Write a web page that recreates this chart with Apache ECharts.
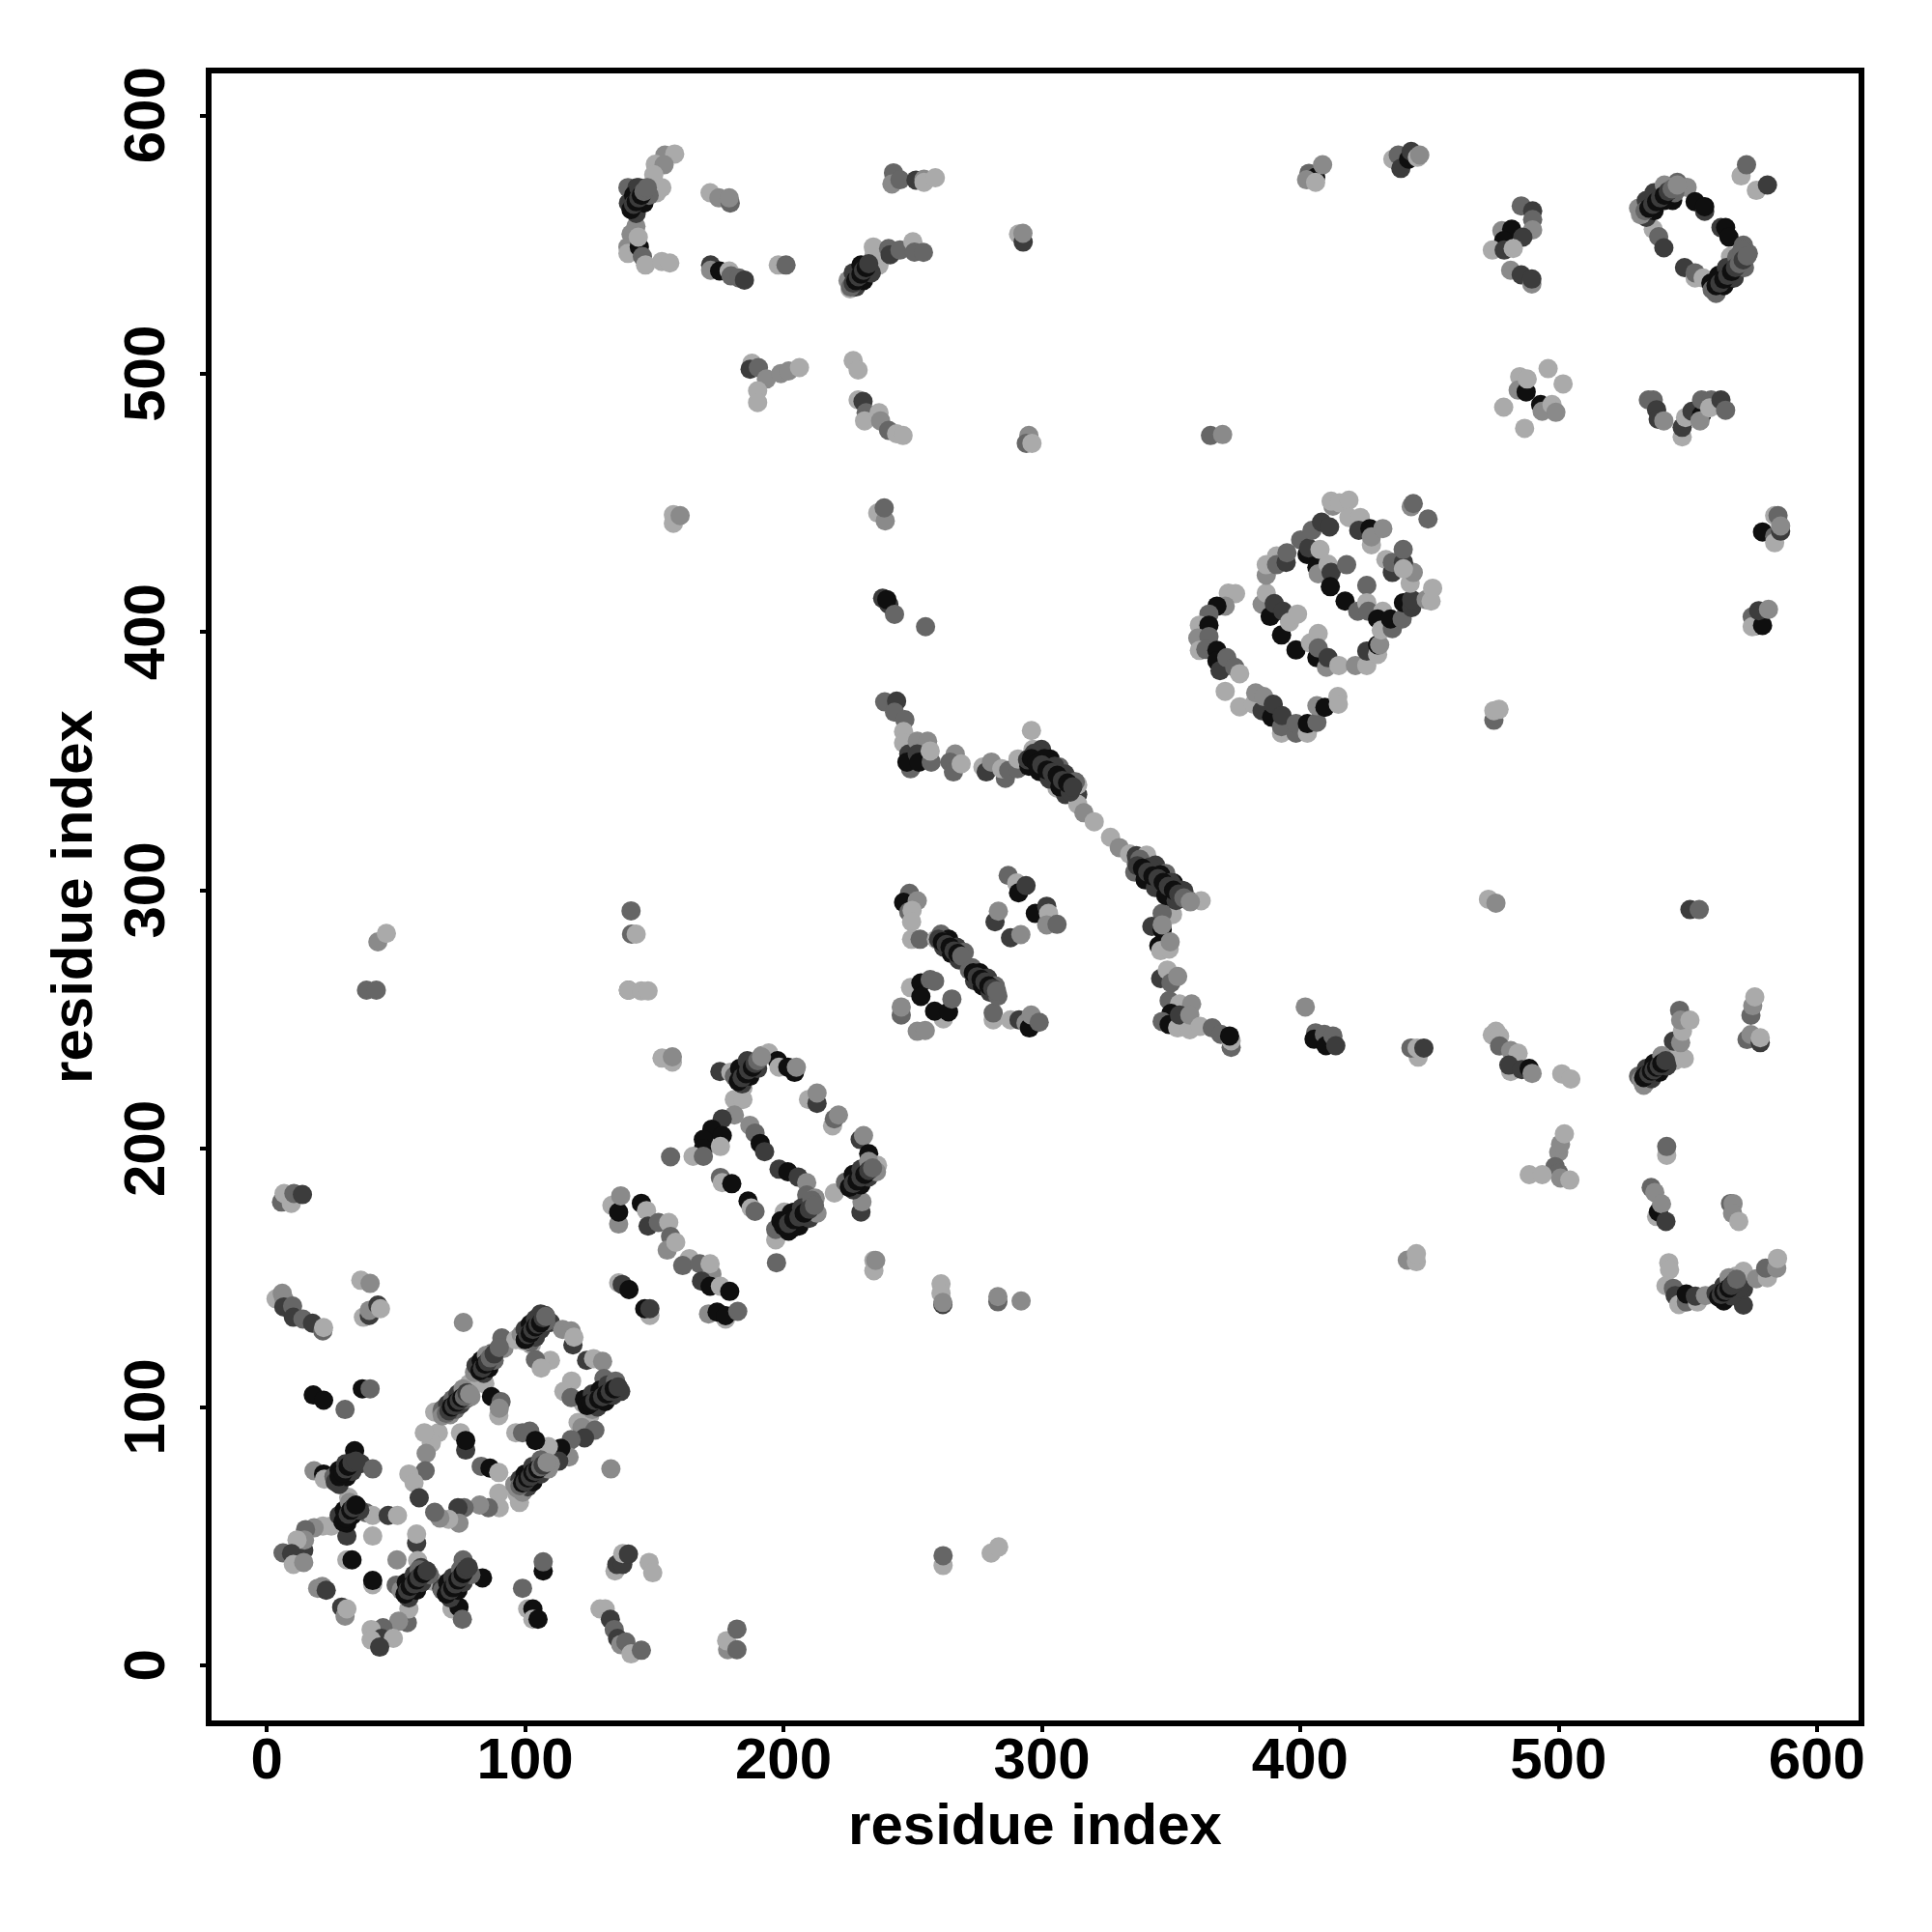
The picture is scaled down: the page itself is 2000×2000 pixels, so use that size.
<!DOCTYPE html>
<html><head><meta charset="utf-8">
<style>html,body{margin:0;padding:0;background:#fff}#c{width:2000px;height:2000px}</style>
<script src="https://cdn.jsdelivr.net/npm/echarts@6/dist/echarts.min.js"></script>
</head><body><div id="c"></div>
<script>
// every contact is [residue x, residue y, shade level 0 (darkest) .. 4 (lightest)]
const tickValues=[0,100,200,300,400,500,600];
const axisTitle="residue index";
const lowerLeftA=[[3.6,141.8,4],[6,144,3],[6.6,141.8,3],[6.6,138.7,1],[10,139,2],[10.3,134.7,1],[14,134,2],[17.7,132.4,1],[21.7,129.4,2],[22,130.7,4],[36.4,149,4],[40,147.8,3],[37.4,134.7,4],[39.7,135.4,1],[39.7,137.4,3],[43,139.4,1],[44,138,4],[18,104.6,0],[22,102.6,0],[30.3,99,2],[37,107,0],[40,107,2],[5.7,179.3,2],[6.7,182.6,4],[9.5,178.8,4],[10.5,182.6,2],[13.8,182.2,1],[38.6,261.3,2],[42.4,261.3,2],[43,280,3],[46.3,283.3,4]];
const ringOne=[[66.4,90,4],[63.7,86,4],[61,90,4],[61.7,82,3],[61.3,75.3,2],[55,74,4],[57,70.6,4],[59,64.8,1],[65,98,4],[67.7,98,3],[69.7,98,2],[71.7,99.3,1],[73,101,0],[74.4,103,0],[76.4,104.6,1],[78.4,106.6,3],[78.4,109,4],[81,109,4],[84.4,109,4],[80.4,113.3,3],[83.7,115.3,0],[84.4,118,1],[87,120.7,2],[87.8,118,1],[91.8,122.7,3],[91,126.7,2],[96.4,126,4],[102.4,124,4],[101,126.7,0],[103,128,0],[105,130.7,0],[106.4,133.4,1],[107.8,135.4,1],[109.8,132.7,1],[114.5,130,3],[118.5,124,1],[117.8,129.4,3],[118.9,127,4],[123.8,118,1],[126.5,118.7,4],[130,117.6,3],[130.5,111,2],[125,96.6,4],[122.5,101.3,4],[125.8,100.6,0],[127.8,102.6,0],[130.5,104.6,1],[132.5,106,2],[135.8,107.7,1],[109.8,118,4],[104,118.3,2],[106.2,115,4],[118,110,4],[115,106,4],[117.8,103.6,2],[120.5,94,4],[122,92,3],[127,91,2],[123,88,1],[117.8,87.3,2],[117,80.6,3],[113.8,84,0],[113,79,1],[109,84.6,4],[109.8,78,3],[106.4,76.6,1],[103.8,74,0],[101,72,0],[98.4,70,0],[97,66,4],[97.8,63,4],[89.8,66.6,4],[90,61,4],[85.8,61,2],[82.4,62,3],[76.4,61,2],[74,61,1],[74.4,55,3],[70.4,56.5,4],[67,57,3],[65,59.2,2],[87,104,0],[90.7,102,2],[89.8,96.6,4],[90,99.5,3],[96.4,90,4],[99,90,2],[101.8,90.6,2],[104,87,0],[75,90,4],[77,83.3,1],[77,87,0],[83,77,2],[86.4,76.3,0],[89.8,74.6,4],[76.1,132.7,3],[133.2,76,3]];
const crossLower=[[34,83,0],[36.4,78,1],[41,76,2],[31,75.3,1],[29,72.6,0],[27,71.2,2],[18.3,75.3,3],[22,74,0],[22.3,72,4],[31.7,65,4],[35,61.2,0],[30.3,58.5,0],[29,56,0],[38.4,59,2],[41,58,4],[47,58,1],[50.6,58,4],[31,50,1],[25,53.9,4],[21.7,53.9,4],[18.3,53.2,3],[15,52.5,2],[14.3,44.5,1],[14.6,48.5,3],[11.7,48.5,4],[6.3,43.5,2],[9.6,43.2,1],[10.3,39,4],[14.3,39.8,3],[41,50,4],[58,47.2,1],[58,50.8,4],[31,40.8,4],[33,40.8,0],[50.4,40.8,3],[58.4,40.5,4],[41,31.2,4],[41,32.8,0],[19.7,29.8,3],[21.5,30.5,3],[23,29,1],[29,22.5,1],[30.3,19,3],[31,21.8,4],[50.1,31,2],[59.7,37.8,1],[61,35,0],[58.4,32.5,0],[55.7,29.8,0],[54.4,26.5,1],[54.4,16.5,2],[55,21.8,4],[51,17,3],[45,14.5,2],[40.4,13.8,4],[44.4,10.4,1],[40.4,9.8,4],[49,10.4,4],[43.7,7,1],[64.4,32.5,4],[67.7,29.8,1],[71,27,0],[73,29.8,0],[75.7,33.8,1],[76,40.8,2],[77.7,36.5,1],[83.5,33.8,0],[71.7,21.8,4],[74.4,22.5,0],[75.7,17.8,2],[107,36.5,0],[107,40,2],[99,29.8,2],[101,21.8,4],[103,21.8,0],[103,17.8,4],[105,17.8,0],[134.8,36.5,4],[135.5,39,1],[137.8,39,1],[137.8,43.2,4],[140,43,1],[148,39.8,4],[149.4,35.8,4],[129,21.8,4],[131,21.8,4],[133,17.8,1],[134.5,13.8,2],[135.8,10.4,1],[137,8,3],[139,9,2],[141,4.4,4],[145,5.8,2],[178.4,6,3],[178,9.5,4],[182,14,2],[182,6,2],[261.8,38.6,4],[261.8,42.4,2],[280.4,43.4,4],[283.3,45.8,4]];
const ringTwo=[[141.2,283,2],[143,283,4],[141,292,2],[140,261.3,2],[140,261.3,4],[145,261,4],[147.6,261,4],[153,235,4],[157,233.5,4],[157,235.5,3],[175.4,229.8,1],[179.6,229.5,4],[185,227.5,0],[187,230,0],[189.7,233,1],[191.6,236,3],[194.3,237,4],[197.7,234,0],[198.3,231.5,4],[204.3,229.5,0],[201.7,231.5,0],[205,231.5,3],[184.3,223.5,4],[181,219,4],[184.3,219,4],[181,213,3],[176.3,211.5,1],[172.3,207.5,0],[169,203.5,0],[169,200,0],[165,197,4],[169,197,2],[176.3,205,0],[175.6,200.8,4],[156.3,196.8,2],[187,209,3],[189,206,2],[191,202,0],[192.7,198.8,1],[198.3,192,1],[201.7,191,0],[205.7,189,1],[209,186.8,3],[209.7,219,4],[213,217.5,1],[213,221.5,3],[219,208.8,4],[219.7,211.5,2],[221.3,213,3],[229.7,203.5,1],[231,205,3],[233,198,0],[234.4,191.5,2],[236.4,193.5,4],[229.7,188,0],[227,186,0],[224.4,185.5,4],[219.7,182.8,4],[230,175.4,1],[230.4,179.4,3],[210.3,176.8,1],[209,182,2],[212.3,180.8,3],[206.3,175.4,0],[204.3,175.4,0],[201.7,172.8,0],[200.3,175.4,4],[203.7,169.4,0],[200.3,169.4,0],[197,164.7,4],[197,168.7,2],[197.3,155.8,2],[175.6,188.8,2],[176.3,186.8,4],[180,186.4,0],[186.3,179.7,0],[187.5,177,4],[189,175.7,2],[235,152.7,4],[235,156.7,4],[235.7,156.7,3],[261,147.6,4],[261,144,4],[261.7,139.6,1],[261.7,140.4,3],[283,140.7,2],[283,142.7,3],[292,141,3]];
const bandTwo=[[136.2,170.8,3],[133.6,178,4],[136.2,175.4,0],[137,181.7,3],[145,178.8,0],[147,176,4],[147.6,170,1],[151.6,171.4,2],[155.6,171.4,4],[156.3,166,2],[155,160.7,3],[158.3,163.7,4],[163.6,157.4,4],[161,154.7,2],[167.6,155.4,2],[172.3,151.4,3],[171.6,155.4,4],[168.3,148.7,1],[171.6,146.7,0],[175.6,146.7,4],[179.2,144.7,0],[136.2,148,4],[137.6,147.4,1],[140.2,145.4,0],[148.3,135.4,4],[146.3,138,0],[148.3,138,1],[171,136,3],[177.6,134,4],[174.3,136.7,0],[177.6,135.3,0],[182.3,137,2]];
const crossMiddle=[[248.8,298.8,2],[246.5,295.3,0],[251.8,295.9,3],[248.5,291.6,2],[249.8,292.2,4],[249.6,287.8,4],[249.6,281,4],[252.9,281,2],[259.2,281,4],[262.5,281.6,1],[263.9,279.7,0],[265.9,277.9,1],[268.5,274.7,2],[274.5,268.5,3],[275.9,267.3,1],[277.9,264.8,0],[281.2,262.3,2],[281.2,249.8,4],[281.2,252.5,2],[287.9,249.8,4],[291.2,249.8,1],[293.9,248.6,3],[295.2,246.7,0],[295.9,251.7,3],[299,248.9,2],[249.2,262.3,4],[253.2,264.1,0],[253.2,258.9,0],[256.8,265.4,2],[258.5,264.8,2],[261.9,250.2,4],[258.5,253.2,0],[263.9,252.9,0],[265.2,257.9,2],[245.6,251.7,2],[245.6,254.8,3],[251.8,245.4,3],[254.9,245.7,3],[287,305.7,2],[290.3,302.8,4],[291,299,0],[293.9,301.8,1],[297.5,291,0],[301.9,293.8,1],[302.6,291,4],[301.9,286.6,3],[305.9,286.8,2],[281.9,287.8,1],[283.2,291.9,3],[287.9,281.6,1],[291.9,282.8,3]];
const longBand=[[239.2,372.9,2],[243.8,373.2,1],[243,368.9,2],[247,366,2],[246.5,361.4,4],[246.5,357,4],[248.5,352.7,1],[249.2,347,2],[247.8,349.6,0],[251.8,357.7,3],[255.8,357.7,3],[251.8,352.7,1],[252.5,349.6,0],[257.2,349.6,2],[256.8,353.9,4],[266.5,352.7,3],[264.5,349.6,2],[265.8,345.8,2],[268.8,348.9,4],[277.2,347.7,4],[278.5,345.8,1],[280.5,349.6,3],[285.9,343.3,2],[284.5,347,4],[287.2,346.4,2],[290.6,347,2],[290.8,350.8,4],[296,361.8,4],[296.6,354.5,4],[295,350.8,0],[299.9,354.5,1],[303.2,350.8,0],[298.6,347.7,3],[302.6,343.9,0],[306.8,347.7,2],[309.9,343.3,1],[305.9,339.6,4],[309.2,337,1],[313.9,337,1],[313.9,333.3,4],[313.9,340.8,4],[316.3,330,3],[320.3,326.5,4],[326.6,320.5,4],[330,316.5,3],[334,314,4],[336.6,310.3,2],[336.6,313.4,1],[340.6,313.6,4],[339.3,305.9,4],[340,309,0],[344,309.7,1],[343.3,303.4,0],[348,306.5,2],[347.3,300.3,2],[351,302.8,0],[352,297.8,4],[350.6,295.3,0],[355,299.7,1],[357.3,295.9,2],[361.7,295.9,4],[350.6,290.6,4],[346.6,291,2],[342.6,286,1],[346.6,284.7,0],[346.6,286.6,3],[345.3,278.5,0],[346,276.6,4],[349.3,277.2,4],[349.7,280,3],[346,265.8,1],[348.6,269.1,4],[350,264.1,2],[352.6,266.6,3],[349.3,257.3,2],[353.3,256,4],[358,256,3],[350,252.3,0],[346.6,249.2,2],[349.3,248,0],[352.6,246.7,4],[353.3,251.7,1],[357.3,246,4],[357.3,251.7,3],[361.3,247.3,4],[366,246.7,2],[369.3,244.2,2],[373.3,239.2,2],[373.3,241.7,4],[372.7,243.6,0],[402,254.8,3],[406,244.8,2],[405.4,242.3,0],[409.4,244.2,2],[410,239.8,0],[412.7,243.6,2],[413.8,239.8,1]];
const ringThree=[[372.2,415,4],[375,414.8,4],[371,410,3],[367.8,410,0],[364.7,406.9,2],[361,402.6,4],[364.7,402.6,0],[360.4,397.6,3],[364.7,398.2,2],[361,392.8,4],[363.5,393.2,2],[367.8,392.8,0],[367.8,388.8,0],[369,385,1],[371.6,390,2],[374.7,386.3,2],[376.6,383.8,4],[371,377,4],[376.6,371,4],[382,372,4],[382.8,376.4,3],[385.3,369.5,1],[385.9,375,3],[389,367,0],[389.6,372,1],[392.8,360.8,4],[392.8,363.3,2],[393,367.6,1],[398.4,360.8,2],[398.4,364.5,2],[402.8,360.8,4],[402.8,364.5,0],[406.5,365,2],[406.5,371.4,3],[409.6,370.8,0],[414.6,375,4],[414.8,372,4],[385.3,410.7,3],[386.9,415,4],[388.4,406,0],[390,411,1],[393.4,408,1],[392.8,398.8,0],[395.9,403.8,4],[399,406.9,4],[398.4,393,0],[404,395.7,4],[407,399.4,4],[406.5,390,0],[407,393.8,2],[410.2,386.3,3],[410.8,390,1],[415,387,4],[421.4,387,3],[425.8,387,4],[425.8,392.6,1],[430,391.3,4],[430,395,0],[430.8,395,3],[386.9,421.9,3],[386.9,426,4],[390.9,429.4,4],[390.9,426,2],[394.6,426.9,1],[394.9,430.6,2],[400.2,435.6,2],[402.7,430,0],[403.3,432.5,1],[404.6,439.3,2],[408.3,442.5,1],[411.4,440.6,1],[412.7,448.7,3],[412,450.6,4],[415.2,450,4],[418.9,451,4],[418.9,444.3,4],[423.3,444.3,4],[422.7,439.3,1],[427,440,0],[427.6,433.7,4],[427.6,436.8,3],[432,440,3],[406.5,425,0],[407,422.5,3],[407.7,431.9,4],[410.8,426.2,4],[412,423,1],[418,426,2],[411.7,417.5,0],[417.4,411.9,0],[422.3,408,2],[425.8,418,2],[425.8,411.3,4],[426.4,408,2],[432,408,4],[430,405,0],[431.4,400.7,4],[435.7,401.3,2],[435,405,0],[439.5,405,2],[440,411.3,0],[443.2,409.4,1],[443.2,412.5,1],[448.8,412.5,3],[450.7,411.9,4],[451.3,416.9,4],[442.6,418.8,4],[443.8,423,3],[433.2,428,4],[435.7,423,1],[435.7,426.9,2],[440,426.9,1],[439.9,431.9,2],[440,424.4,4],[443,448.5,3],[443.8,449.7,2],[449.5,443.7,2],[475,365.8,2],[475,369.5,4],[477,370,4],[157.4,445.4,4],[157.4,442,4],[160,445,3],[236.5,446,4],[239.4,443,3],[239,448,2],[238.4,413,1],[240.8,410.6,1],[240,412.5,0],[243,406.8,2],[255,402,2]];
const upperLeft=[[154.1,584.6,3],[157.9,585,4],[150.4,581,4],[153.8,580.8,3],[149.8,577,4],[139.8,572,2],[143.3,572,1],[146,571.5,3],[146,569,1],[143.5,567.7,0],[142.9,564.6,1],[151,570,4],[152.9,572,4],[142.9,557,3],[141,554,3],[139.8,549,3],[139.8,546.5,4],[144.2,549,0],[143.8,552.8,4],[145.4,545.3,2],[146.6,542,4],[152.9,543.4,4],[156,542.8,4],[171.6,570,4],[175,568,3],[179.4,566,2],[179,568,3],[171.8,542,1],[171.8,540,3],[175.3,539.7,0],[179,539.7,4],[179.7,537.8,2],[182.8,537,2],[184.9,536.2,1],[198,542,4],[201,542,2],[225.8,532.8,4],[226.4,534.7,1],[228.3,537,0],[230.8,539.7,1],[233.2,542,2],[237,542,4],[235.1,546,4],[234.8,549,4],[240.7,548.4,2],[241.3,546,1],[245.1,547.8,2],[250.1,551,4],[250.7,547,2],[254.2,546.9,2],[242.6,577.7,2],[242,573.4,3],[245.1,575,2],[251.3,574.9,1],[254.4,575.2,3],[254.4,574,4],[258.8,575.8,4],[291,554,4],[292.8,550.9,1],[292.7,554.3,3],[187.8,504,4],[187.1,501.7,1],[190.3,502.3,2],[193.4,497.9,3],[190,493.3,4],[190,488.8,4],[199,500,3],[202,501,3],[206.2,502.3,4],[227,505,4],[228.9,501.4,4],[228.9,489.8,4],[230.8,489.2,1],[232,484.8,2],[231.4,481.7,4],[237,484.8,4],[237.6,481.7,3],[240.7,478,2],[243.8,476.7,4],[246.3,476,4],[295,476,3],[294,473,2],[296.2,473,4],[365.3,476,2],[370,476.4,3]];
const upperRight=[[403.4,577.5,2],[406,576,0],[402.5,575,3],[408.7,580.8,3],[406,574,4],[435.9,583,4],[438,584.6,2],[439,579.4,1],[442,583,0],[443,586,1],[445.4,583.7,4],[446.3,584.6,3],[485.6,564.9,2],[490,563,1],[490,559.6,2],[490,555.6,3],[478.1,555.3,3],[481.9,555.9,0],[486.2,552.8,1],[478.8,551.5,0],[474.4,547.8,4],[479,547.8,1],[482.5,548.4,4],[481.5,540,3],[485.6,538.2,1],[489.7,534.7,3],[489.7,536.6,1],[496,501.9,4],[501.8,496,4],[485,498.8,4],[484.4,493.6,3],[487.5,492.9,0],[487.9,497.9,4],[478.8,487,4],[486.9,478.8,4],[493.1,488,0],[493.7,485.4,3],[497.5,488,4],[499,485,3],[534.8,489.8,2],[536.7,489.8,2],[538,486,1],[538.6,482.3,1],[540.8,481.7,3],[547.9,475.5,4],[547.9,479.2,1],[549.2,483,4],[551.7,485.4,1],[555.4,484,0],[554.8,481.7,3],[555.4,489.8,2],[559.1,489.8,2],[558.5,486.7,4],[562.9,489.8,1],[564.7,485.8,2],[531.7,561.5,4],[533.6,562.8,1],[535.5,564.6,0],[538,567,1],[540.4,569.6,2],[544.2,567,0],[543.6,571.5,2],[546,574,2],[549.8,572.1,3],[552.9,566.5,0],[556.6,562.8,1],[556.6,564.6,0],[536.7,555.9,4],[538.8,553,2],[540.8,548.7,1],[548.8,541,1],[552.9,537,4],[552.9,539,2],[556,537,4],[570.7,576.5,4],[572.8,580.8,2],[576.6,570.9,4],[580.9,573,1],[562.9,556.5,1],[564.7,556.5,0],[566,552.8,0],[571.6,549.7,2],[566.6,545.3,4],[573.5,546.5,2],[569.7,543.4,1],[569.1,540.3,2],[561.6,532.2,4],[562.3,533.5,1],[566,538.4,1],[562.9,536,0],[565.4,536,0],[567.9,537.2,1],[583.7,445,4],[585,445,2],[579,438.7,0],[583.7,437,2],[583.7,434.5,4],[586,439,1],[586,441,3],[575,405.8,2],[576.5,402.5,0],[575,402,4],[579,402.5,0],[577.5,408.2,1],[581.3,408.7,3]];
const lowerRight=[[472.9,296.5,4],[475.8,295,3],[550.9,292.5,1],[554.5,292.5,2],[445.7,235.4,4],[442.9,238.9,2],[445.3,238.9,4],[447.9,238.9,1],[475.8,245.4,4],[474.4,244,4],[477.2,243.5,4],[477.2,239.7,2],[481.5,237.9,3],[484.4,236.9,4],[481.5,229.8,4],[480.8,232.3,1],[485.8,230.6,1],[488.7,231,0],[489.8,229.1,3],[501.3,228.9,4],[504.8,226.9,4],[533.7,225.4,4],[535.2,227.9,0],[537.3,230.4,0],[540.2,232.9,0],[542.3,235.4,4],[545.2,234.1,4],[548.7,234.8,4],[544.5,241.6,1],[547.3,241,3],[548,245.4,4],[546.9,253.5,2],[547.3,249.7,3],[550.9,249.7,4],[574.5,251.6,2],[575.2,255.3,3],[576,258.7,4],[573,242.2,2],[574.5,244.1,3],[578.1,241,1],[578.1,242.9,4],[500.1,198.6,3],[500.8,201.7,3],[502.3,205.7,4],[498.7,193,2],[500.1,190.5,2],[500.8,188.6,3],[504.4,187.8,4],[488.7,189.9,4],[493.7,189.9,4],[541.9,197.4,4],[541.9,200.8,2],[535.9,184.9,2],[537.3,183,3],[538,173.7,4],[538.7,175.5,0],[539.9,178.6,3],[541.6,171.8,1],[566.6,178.7,2],[567.6,178.7,3],[567.4,174.9,3],[569.8,171.8,4],[542.7,155.8,4],[543,153.1,4],[541.6,146.9,4],[544.5,145.9,2],[545.2,143.1,1],[546.6,139.6,4],[549.5,140.6,2],[549.5,143.7,0],[553.8,140.6,4],[553,142.9,1],[556.9,143.1,3],[571.6,152.5,4],[568.8,150.6,4],[563.8,142.1,0],[566.6,144.4,0],[568.8,146.9,1],[571.6,139.4,1],[571.6,145.6,1],[576.6,149.6,3],[580.9,150,4],[580.2,153.7,2],[584.5,153.7,3],[584.8,157.5,4],[441.5,156.8,3],[445,156.2,4],[445,159.3,4]];
const ribbonEdges=[[71,97,3],[73,99,2],[75,101,1],[77,103,2],[79,104,3],[68,99,2],[70,101,1],[72,103,2],[74,105,1],[76,107,3],[102,125,2],[104,127,1],[106,130,1],[108,133,2],[98.5,128,3],[100,130,1],[102,132,0],[104,134,1],[106,136,1],[126,99,3],[128,100,1],[131,102,0],[134,104.5,1],[137,106,1],[123,103,0],[126,105,1],[129,106.5,0],[132,108.5,1],[135,110,2],[99,67,3],[101,69,1],[103,71,0],[106,74,1],[109,76,3],[96,70,3],[98,72,1],[100,74,0],[103,77,1],[106,79.5,2],[84,113,1],[86,115,0],[88,118,2],[81,116,1],[83,118,0],[85,120,3],[28,70,1],[31,73,0],[33,75,1],[26,73,2],[28,75.5,0],[30.5,78,1],[31,55,0],[33,58,0],[36,60,1],[28,58,1],[30,60,0],[32,63,3],[55,26,1],[58,29,0],[60,32,1],[63,35,2],[52,29,3],[54,32,0],[57,35,1],[59,37,2],[71,26,1],[74,29,0],[76,32,1],[79,35,2],[68,29,2],[70,32,0],[72,34,1],[75,37,2],[184,225,1],[187,228,0],[190,231,1],[181,228,2],[183,231,0],[186,234,1],[202,168,0],[206,170,0],[210,173,1],[213,175,3],[199,172,0],[203,175,0],[207,177,1],[211,180,2],[227,184,1],[230,186,0],[233,189,1],[236,191,3],[224,187,2],[227,190,0],[230,192,1],[233,195,3],[261,283,2],[264,281,0],[267,278,1],[270,276,2],[262,278,1],[265,275.5,0],[268,273,1],[273,270,2],[276,268,0],[279,266,1],[282,263,2],[274,265,1],[277,263,0],[280,260.5,1],[283,259,2],[297,353,1],[301,351,0],[305,348,1],[309,345,1],[313,342,2],[295,348,0],[299,346,0],[303,343,1],[307,340,0],[311,338,1],[338,312,2],[342,309,1],[346,306,0],[350,303,1],[354,300,1],[336,307,2],[340,304,0],[344,301,1],[348,298,0],[352,296,1],[228,533.5,1],[231,536,0],[234,539,1],[225,536,3],[227,539,1],[230,542,0],[143,562,1],[146,566,0],[148,569,2],[140,566,1],[142,569,0],[144,572,1],[534,560.5,1],[537,563,0],[541,567,0],[545,570,2],[531,564,3],[534,567,1],[537,570,1],[541,573,3],[561,531,2],[564,534,0],[568,537,1],[572,541,2],[559,535,0],[562,538,0],[565,541,1],[569,545,2],[571,548,2],[533,224.5,3],[536,227,1],[539,229.5,0],[542,232,1],[531,228,2],[534,231,1],[537,233,0],[540,236,3],[564,141,0],[567,143,1],[570,146,1],[561,144,1],[564,147,1],[566,150,3]];
const denseLower=[[68,96.5,3],[69.5,97.5,2],[70.5,98.5,1],[71.5,100,0],[72.5,100.5,1],[73.5,101.8,0],[74.5,102.5,1],[75.5,103.5,0],[76.5,104,2],[77.5,105.5,1],[78.5,105,3],[99.5,125.5,4],[100,126,0],[101,128,1],[102,128.5,0],[103,130,1],[104,131,0],[105,132,1],[106,132.5,0],[107,134.5,1],[108,135,2],[124,100.5,0],[125.5,101.5,0],[127,102.5,1],[128.5,103,0],[130,104,1],[131.5,105,0],[133,106,1],[134.5,107,0],[136,107.7,1],[97,68.5,3],[98,69.5,2],[99,70.5,0],[100,71,1],[101,72.5,0],[102,73,1],[103,74.5,0],[104,75,1],[105,76,0],[106,76.8,2],[107,77.5,1],[108.5,78.5,3],[82.5,114,0],[83.5,115,1],[84.5,116.5,0],[85.5,117.5,1],[86.5,119,2],[88,120.5,1],[90,123,2],[26.5,71,1],[28,73,0],[29.5,74.5,0],[30.5,76,1],[31.5,77,0],[33,78.5,1],[34.5,79,1],[29.5,55.5,0],[30.5,57,0],[31.5,58.5,1],[32.5,60,0],[33.5,61,1],[34.5,62,0],[53.5,27.5,0],[54.5,29,1],[55.5,30.5,0],[57,31.5,1],[58,33,0],[59,34,1],[60.5,35.5,0],[62,36.5,1],[69.5,27.5,0],[71,29,1],[72,30,0],[73,31.5,1],[74,33,0],[75,34,1],[76,35.5,0],[77,37,1],[78,38,1]];
const denseUpper=[[182.5,226,0],[184,227.5,1],[185.5,229,0],[186.5,230.5,1],[188,231.5,0],[189,233,1],[190,234,2],[191.5,235.5,3],[200,170,0],[202,171,1],[204,172.5,0],[206,173.5,1],[208,175,0],[210,176.5,1],[212,178,2],[225.5,185,0],[227,186.5,1],[228.5,187.5,0],[230,189,1],[231.5,190,0],[233,191.5,1],[234.5,192.5,2],[260,281,1],[261.5,280,0],[263,279,1],[264.5,278,0],[266,276.5,1],[267.5,275.5,0],[269,274.5,2],[272,269,2],[273.5,268,0],[275,266.5,1],[276.5,265.5,0],[278,264.5,1],[279.5,263,0],[281,262,1],[282.5,261,2],[294.5,350.5,1],[296,351,0],[298,349,0],[300,348.5,1],[302,346.5,0],[304,345.5,1],[306,344.5,0],[308,342.5,1],[310,341.5,0],[312,340,1],[337,309.5,1],[339,308.5,0],[341,307,1],[343,305.5,0],[345,304.5,1],[347,303,0],[349,301.5,1],[351,300,0],[353,298.5,1],[355,297,2],[357.5,295.5,3],[226,533.5,2],[227,535,1],[228,536,0],[229,537.5,1],[230,538.5,0],[231,540,1],[232,541,0],[233,542.5,1],[141,563.5,0],[142,565.5,1],[143,566.5,0],[144,568,1],[145,569,0],[146,570.5,2],[147.3,572,2],[532,561.5,3],[533.5,563,2],[535,564,0],[536.5,565.5,1],[538,566.5,0],[539.5,568,1],[541,569,0],[542.5,570.5,1],[544,571.5,2],[546,573,3],[559.5,532.5,2],[561,534,0],[562.5,535,1],[564,536.5,0],[565.5,538,1],[567,539.5,0],[568.5,541,1],[570,542.5,2],[571.5,544,1],[573,545.5,2],[532,226.7,3],[533,227.5,0],[534,228.5,0],[535,229,1],[536,230,0],[537,230.5,1],[538,231.5,0],[539,232,1],[540,233,0],[541.5,234,1],[562,142.5,0],[563,143.5,1],[564,144.5,0],[565,145,1],[566,146,0],[567,147,1],[568,148,1],[569,149.4,2]];
const shadeColors=['#0f0f0f','#3c3c3c','#666666','#8a8a8a','#aaaaaa'];
const contacts=[].concat(lowerLeftA,ringOne,crossLower,ringTwo,bandTwo,crossMiddle,longBand,ringThree,upperLeft,upperRight,lowerRight,ribbonEdges,denseLower,denseUpper);

const fontFamily='"Liberation Sans",Arial,sans-serif';
const axisBase=(rotate,margin,gap)=>({
  type:'value',min:-22.5,max:617.3,
  name:axisTitle,nameLocation:'middle',nameGap:gap,
  nameTextStyle:{fontFamily,fontWeight:'bold',fontSize:60,color:'#000'},
  axisLine:{show:false,onZero:false},splitLine:{show:false},
  axisTick:{show:true,length:9,inside:false,lineStyle:{color:'#000',width:4},customValues:tickValues},
  axisLabel:{show:true,rotate,margin,fontFamily,fontWeight:'bold',fontSize:60,color:'#000',customValues:tickValues,hideOverlap:false,showMinLabel:true,showMaxLabel:true}
});
const chart=echarts.init(document.getElementById('c'),null,{renderer:'canvas'});
chart.setOption({
  animation:false,backgroundColor:'#fff',
  grid:{left:216,right:73,top:73,bottom:216,show:true,borderColor:'#000',borderWidth:6,backgroundColor:'transparent'},
  xAxis:axisBase(0,10,78),
  yAxis:axisBase(90,33,108),
  series:[{type:'scatter',data:contacts,symbol:'circle',symbolSize:20,clip:false,silent:true,large:false,progressive:0,
    encode:{x:0,y:1},
    itemStyle:{opacity:1,color:p=>shadeColors[p.value[2]]}}]
});
</script></body></html>
